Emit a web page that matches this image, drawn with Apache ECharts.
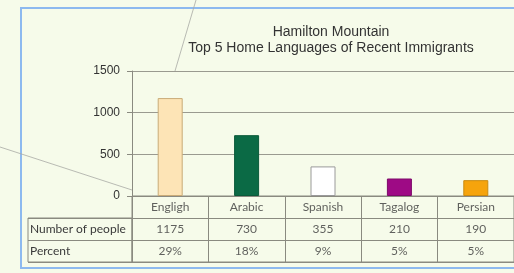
<!DOCTYPE html>
<html>
<head>
<meta charset="utf-8">
<script src="https://cdn.jsdelivr.net/npm/echarts@6/dist/echarts.min.js"></script>
<style>
  html, body { margin: 0; padding: 0; background: #f6fbea; }
  #main { width: 514px; height: 273px; }
</style>
</head>
<body>
<div id="main"></div>
<script>
var languages = ["Engligh", "Arabic", "Spanish", "Tagalog", "Persian"]
var people = [1175, 730, 355, 210, 190]
var percents = ["29%", "18%", "9%", "5%", "5%"]
var rowHeaders = ["Number of people", "Percent"]
var yTicks = [0, 500, 1000, 1500]

var barColors = ["#fde4b6", "#0b6a45", "#ffffff", "#9e0a85", "#f6a40c"]
var barBorders = ["#c9ab78", "#0b5a3a", "#9a9a9a", "#7e0a6a", "#c98a10"]

var chartDom = document.getElementById("main")
var myChart = echarts.init(chartDom)

var tableRows = [languages, people, percents]
var cellSeries = tableRows.map(function (row, r) {
  return {
    type: "scatter",
    xAxisIndex: 1,
    yAxisIndex: 1,
    symbolSize: 1,
    itemStyle: { color: "rgba(0,0,0,0)" },
    silent: true,
    label: {
      show: true,
      position: "inside",
      fontFamily: "Lato",
      fontSize: 12,
      color: "#3a3a3a",
      formatter: function (p) { return String(row[p.dataIndex]) }
    },
    data: row.map(function (v, i) { return [i, r] })
  }
})

var option = {
  backgroundColor: "#f6fbea",
  animation: false,
  title: {
    text: "Hamilton Mountain\nTop 5 Home Languages of Recent Immigrants",
    left: 326,
    top: 19,
    textAlign: "center",
    textStyle: {
      fontFamily: "Liberation Sans",
      fontWeight: "normal",
      fontSize: 14,
      lineHeight: 16,
      color: "#333"
    }
  },
  grid: [
    { left: 132, top: 71, width: 388, height: 125 },
    { left: 132, top: 196, width: 388, height: 66, show: true, borderColor: "#8a8a80", borderWidth: 1, backgroundColor: "transparent" },
    { left: 28, top: 218, width: 104, height: 44, show: true, borderColor: "#8a8a80", borderWidth: 1, backgroundColor: "transparent" }
  ],
  xAxis: [
    {
      type: "category",
      gridIndex: 0,
      data: languages,
      axisLine: { lineStyle: { color: "#8a8a80" } },
      axisTick: { show: false },
      axisLabel: { show: false }
    },
    {
      type: "category",
      gridIndex: 1,
      data: languages,
      axisLine: { show: false },
      axisTick: { show: false },
      axisLabel: { show: false },
      splitLine: { show: true, interval: 0, lineStyle: { color: "#8a8a80" } }
    },
    {
      type: "value",
      gridIndex: 2,
      show: false
    }
  ],
  yAxis: [
    {
      type: "value",
      gridIndex: 0,
      min: 0,
      max: 1500,
      interval: 500,
      axisLine: { show: true, lineStyle: { color: "#8a8a80" } },
      axisTick: { show: true, length: 5, lineStyle: { color: "#8a8a80" } },
      axisLabel: {
        fontFamily: "Liberation Sans",
        fontSize: 12,
        color: "#333",
        margin: 12,
        formatter: function (v) { return yTicks.indexOf(v) >= 0 ? String(v) : "" }
      },
      splitLine: { lineStyle: { color: "#9a9a90" } }
    },
    {
      type: "category",
      gridIndex: 1,
      inverse: true,
      data: ["cat", "num", "pct"],
      axisLine: { show: false },
      axisTick: { show: false },
      axisLabel: { show: false },
      splitLine: { show: true, interval: 0, lineStyle: { color: "#8a8a80" } }
    },
    {
      type: "category",
      gridIndex: 2,
      inverse: true,
      data: rowHeaders,
      axisLine: { show: false },
      axisTick: { show: false },
      axisLabel: {
        inside: true,
        margin: 2,
        fontFamily: "Lato",
        fontSize: 12,
        color: "#3a3a3a"
      },
      splitLine: { show: true, interval: 0, lineStyle: { color: "#8a8a80" } }
    }
  ],
  series: [
    {
      type: "bar",
      xAxisIndex: 0,
      yAxisIndex: 0,
      barWidth: 25,
      data: people.map(function (v, i) {
        return { value: v, itemStyle: { color: barColors[i], borderColor: barBorders[i], borderWidth: 1 } }
      })
    }
  ].concat(cellSeries),
  graphic: [
    {
      type: "rect",
      shape: { x: 21, y: 8, width: 540, height: 260 },
      style: { fill: "none", stroke: "#8db9ef", lineWidth: 2 },
      silent: true
    },
    {
      type: "line",
      shape: { x1: 196, y1: 0, x2: 175, y2: 71 },
      style: { stroke: "#a8aaa4", lineWidth: 0.8 },
      silent: true
    },
    {
      type: "line",
      shape: { x1: 0, y1: 147, x2: 132, y2: 190 },
      style: { stroke: "#a8aaa4", lineWidth: 0.8 },
      silent: true
    }
  ]
}

option && myChart.setOption(option)
</script>
</body>
</html>
